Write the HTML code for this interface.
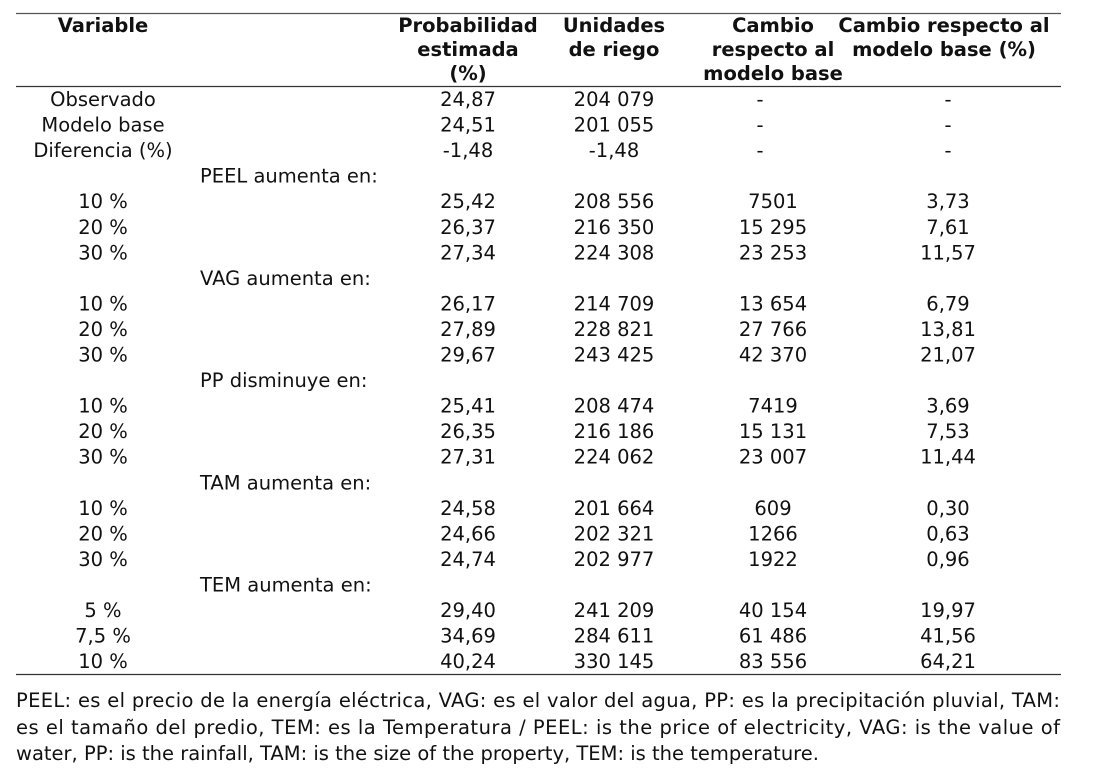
<!DOCTYPE html>
<html><head><meta charset="utf-8"><style>
html,body{margin:0;padding:0;background:#fff;}
svg{display:block;font-family:"DejaVu Sans","Liberation Sans",sans-serif;}
text{fill:#111;font-size:19.5px;}
.h{font-weight:bold;}
</style></head><body>
<svg width="1094" height="775" viewBox="0 0 1094 775">
<line x1="16" y1="13.5" x2="1061" y2="13.5" stroke="#555" stroke-width="1.3"/>
<line x1="16" y1="86.5" x2="1061" y2="86.5" stroke="#333" stroke-width="1.3"/>
<line x1="16" y1="674.5" x2="1061" y2="674.5" stroke="#333" stroke-width="1.3"/>
<g class="h" text-anchor="middle">
<text class="h" x="103" y="32">Variable</text>
<text class="h" x="468" y="32">Probabilidad</text>
<text class="h" x="468" y="56">estimada</text>
<text class="h" x="468" y="80">(%)</text>
<text class="h" x="614" y="32">Unidades</text>
<text class="h" x="614" y="56">de riego</text>
<text class="h" x="773" y="32">Cambio</text>
<text class="h" x="773" y="56">respecto al</text>
<text class="h" x="773" y="80">modelo base</text>
<text class="h" x="944" y="32">Cambio respecto al</text>
<text class="h" x="944" y="56">modelo base (%)</text>
</g>
<g id="body"></g>
<g>
<text x="16" y="707" textLength="1044" lengthAdjust="spacing">PEEL: es el precio de la energía eléctrica, VAG: es el valor del agua, PP: es la precipitación pluvial, TAM:</text>
<text x="16" y="734" textLength="1044" lengthAdjust="spacing">es el tamaño del predio, TEM: es la Temperatura / PEEL: is the price of electricity, VAG: is the value of</text>
<text x="16" y="760">water, PP: is the rainfall, TAM: is the size of the property, TEM: is the temperature.</text>
</g>
</svg>
<script>
const labels=["Observado","Modelo base","Diferencia (%)","#PEEL aumenta en:","10 %","20 %","30 %","#VAG aumenta en:","10 %","20 %","30 %","#PP disminuye en:","10 %","20 %","30 %","#TAM aumenta  en:","10 %","20 %","30 %","#TEM aumenta  en:","5 %","7,5 %","10 %"];
const prob=["24,87","24,51","-1,48","","25,42","26,37","27,34","","26,17","27,89","29,67","","25,41","26,35","27,31","","24,58","24,66","24,74","","29,40","34,69","40,24"];
const units=["204 079","201 055","-1,48","","208 556","216 350","224 308","","214 709","228 821","243 425","","208 474","216 186","224 062","","201 664","202 321","202 977","","241 209","284 611","330 145"];
const change=["-","-","-","","7501","15 295","23 253","","13 654","27 766","42 370","","7419","15 131","23 007","","609","1266","1922","","40 154","61 486","83 556"];
const changePct=["-","-","-","","3,73","7,61","11,57","","6,79","13,81","21,07","","3,69","7,53","11,44","","0,30","0,63","0,96","","19,97","41,56","64,21"];
const NS="http://www.w3.org/2000/svg";
const body=document.getElementById('body');
function t(x,y,s,anchor){const e=document.createElementNS(NS,'text');e.setAttribute('x',x);e.setAttribute('y',y);e.setAttribute('text-anchor',anchor);e.textContent=s;body.appendChild(e);return e;}
labels.forEach((lab,i)=>{
  const y=106+i*25.55;
  if(lab[0]==='#'){
    const g=t(200,y,lab.slice(1),'start');
    
    
    return;
  }
  const a=t(103,y,lab,'middle');
  
  
  const cols=[[468,prob[i]],[614,units[i]],[change[i]==='-'?760:773,change[i]],[948,changePct[i]]];
  cols.forEach(([x,v])=>{
    const c=t(x,y,v,'middle');
    
    
  });
});
</script>
</body></html>
